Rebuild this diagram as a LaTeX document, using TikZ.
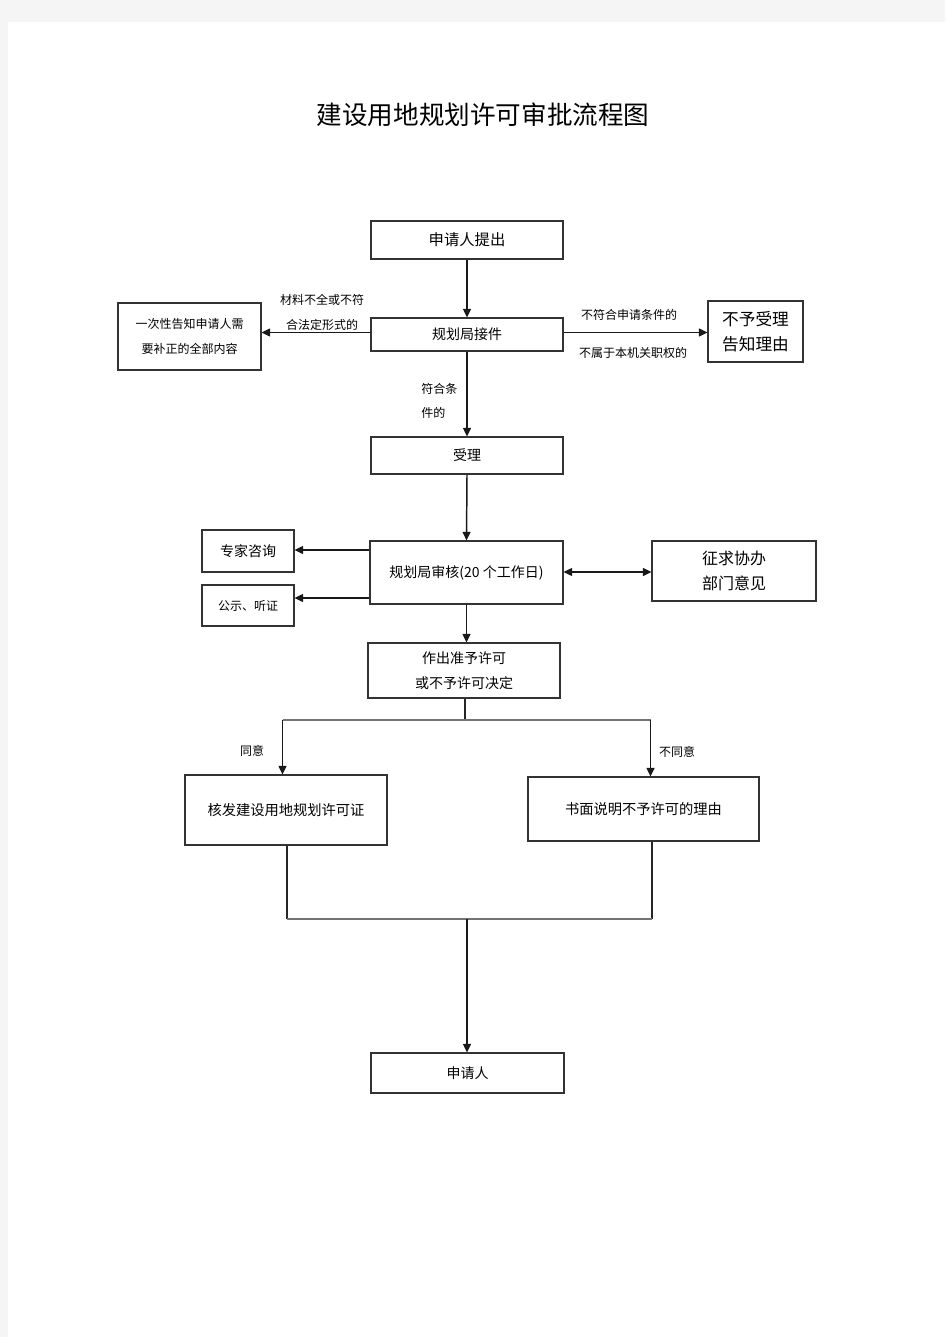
\documentclass[tikz,border=0pt]{standalone}
\usepackage{fontspec}
\setmainfont{Noto Sans CJK SC}
\usetikzlibrary{arrows.meta}
\tikzset{
  box/.style={draw=black!80, line width=0.8pt, inner sep=0pt, align=center, fill=white},
  lbl/.style={inner sep=0pt, font=\fontsize{9}{11}\selectfont},
  arr/.style={line width=1.1pt, black!90, -{Triangle[length=6.5pt,width=6pt]}},
  arrb/.style={line width=1.1pt, black!90, {Triangle[length=6.5pt,width=6pt]}-{Triangle[length=6.5pt,width=6pt]}},
  ln/.style={line width=1pt, black!85},
  hln/.style={line width=1pt, black!55}
}
\begin{document}
\begin{tikzpicture}[x=0.75pt,y=-0.75pt]
\useasboundingbox (0,0) rectangle (945,1337);
\fill[black!4] (0,0) rectangle (945,1337);
\fill[white] (8,22) rectangle (945,1337);

\node[inner sep=0pt, font=\fontsize{19.2}{24}\selectfont] (title) at (483,115) {建设用地规划许可审批流程图};

\node[box, minimum width=144pt, minimum height=28.5pt, font=\fontsize{11.5}{14}\selectfont] (A) at (467,240) {申请人提出};
\node[box, minimum width=144pt, minimum height=24.75pt, font=\fontsize{10.5}{13}\selectfont] (B) at (467,334.5) {\raisebox{-2.5pt}{规划局接件}};
\node[box, minimum width=107.25pt, minimum height=50.25pt, font=\fontsize{9}{18.75}\selectfont] (C) at (189.5,336.5) {一次性告知申请人需\\要补正的全部内容};
\node[box, minimum width=71.25pt, minimum height=45.75pt, font=\fontsize{12.5}{18.75}\selectfont] (D) at (755.5,331.5) {不予受理\\告知理由};
\node[box, minimum width=144pt, minimum height=27.75pt, font=\fontsize{10.5}{13}\selectfont] (E) at (467,455.5) {受理};
\node[box, minimum width=144.75pt, minimum height=47.25pt, font=\fontsize{10.5}{13}\selectfont] (F) at (466.5,572.5) {规划局审核(20 个工作日)};
\node[box, minimum width=69pt, minimum height=31.5pt, font=\fontsize{10.5}{13}\selectfont] (G) at (248,551) {专家咨询};
\node[box, minimum width=69pt, minimum height=30.75pt, font=\fontsize{9}{11}\selectfont] (H) at (248,605.5) {公示、听证};
\node[box, minimum width=123pt, minimum height=45pt, font=\fontsize{12}{18.75}\selectfont] (I) at (734,571) {征求协办\\部门意见};
\node[box, minimum width=144pt, minimum height=41.25pt, font=\fontsize{10.5}{18.75}\selectfont] (J) at (464,670.5) {作出准予许可\\或不予许可决定};
\node[box, minimum width=151.5pt, minimum height=52.5pt, font=\fontsize{10.7}{14}\selectfont] (K) at (286,810) {核发建设用地规划许可证};
\node[box, minimum width=173.25pt, minimum height=48pt, font=\fontsize{10.7}{14}\selectfont] (L) at (643.5,809) {书面说明不予许可的理由};
\node[box, minimum width=144.75pt, minimum height=30pt, font=\fontsize{10.5}{13}\selectfont] (M) at (467.5,1073) {申请人};

% labels
\node[lbl] (l1) at (322,300) {材料不全或不符};
\node[lbl] (l2) at (322,325) {合法定形式的};
\node[lbl] (l3) at (629,315) {不符合申请条件的};
\node[lbl] (l4) at (633,353) {不属于本机关职权的};
\node[lbl, anchor=west] (l5) at (421,389) {符合条};
\node[lbl, anchor=west] (l6) at (421,413) {件的};
\node[lbl] (l7) at (252,751) {同意};
\node[lbl] (l8) at (677,752) {不同意};

% connectors
\draw[arr] (A.south) -- (B.north);
\draw[arr] (B.west |- 0,332.5) -- (C.east |- 0,332.5);
\draw[arr] (B.east |- 0,332.5) -- (D.west |- 0,332.5);
\draw[arr] (B.south) -- (E.north);
\draw[arr] (E.south) -- (F.north);
\draw[arr] (F.west |- 0,550) -- (G.east |- 0,550);
\draw[arr] (F.west |- 0,598) -- (H.east |- 0,598);
\draw[arrb] (F.east |- 0,572) -- (I.west |- 0,572);
\draw[arr] (F.south) -- (F.south |- J.north);

\coordinate (br) at (465,720);
\coordinate (brL) at (282.5,720);
\coordinate (brR) at (650.5,720);
\draw[ln] (J.south -| br) -- (br);
\draw[hln] (brL) -- (brR);
\draw[arr] (brL) -- (brL |- K.north);
\draw[arr] (brR) -- (brR |- L.north);

\coordinate (mL) at (287,919);
\coordinate (mR) at (652,919);
\coordinate (mC) at (467,919);
\draw[ln] (mL |- K.south) -- (mL);
\draw[ln] (mR |- L.south) -- (mR);
\draw[hln] (mL) -- (mR);
\draw[arr] (mC) -- (mC |- M.north);
\end{tikzpicture}
\end{document}
